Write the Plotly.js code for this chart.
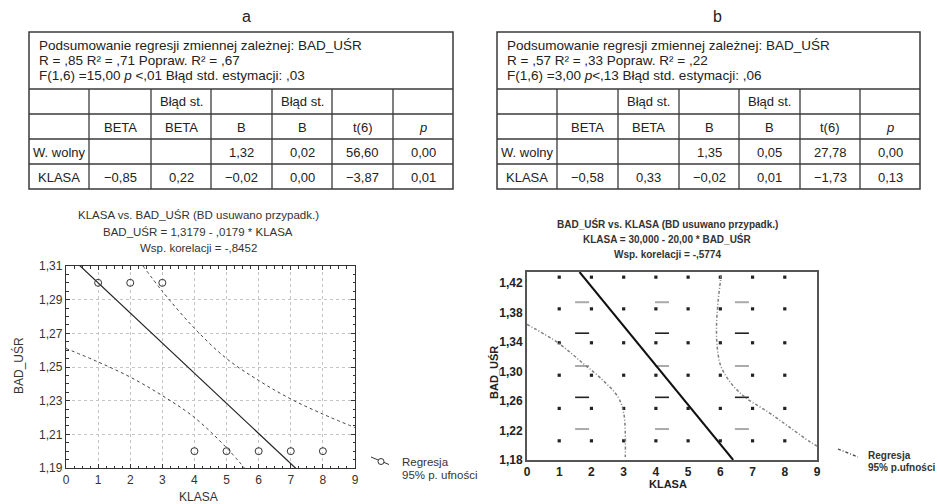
<!DOCTYPE html>
<html>
<head>
<meta charset="utf-8">
<script src="https://cdn.plot.ly/plotly-3.0.1.min.js"></script>
<style>html,body{margin:0;padding:0;background:#fff;}#chart{width:938px;height:504px;}</style>
</head>
<body>
<div id="chart"></div>
<script>
// ---------- data ----------
const panelLabels = ["a", "b"];
const headerA = ["Podsumowanie regresji zmiennej zależnej: BAD_UŚR",
                 "R = ,85 R² = ,71 Popraw. R² = ,67",
                 "F(1,6) =15,00 <i>p</i> &lt;,01 Błąd std. estymacji: ,03"];
const headerB = ["Podsumowanie regresji zmiennej zależnej: BAD_UŚR",
                 "R = ,57 R² = ,33 Popraw. R² = ,22",
                 "F(1,6) =3,00 <i>p</i>&lt;,13 Błąd std. estymacji: ,06"];
const colHead1 = ["", "", "Błąd st.", "", "Błąd st.", "", ""];
const colHead2 = ["", "BETA", "BETA", "B", "B", "t(6)", "<i>p</i>"];
const rowLabels = ["W. wolny", "KLASA"];
const valuesA = [["", "", "1,32", "0,02", "56,60", "0,00"],
                 ["−0,85", "0,22", "−0,02", "0,00", "−3,87", "0,01"]];
const valuesB = [["", "", "1,35", "0,05", "27,78", "0,00"],
                 ["−0,58", "0,33", "−0,02", "0,01", "−1,73", "0,13"]];

// chart a
const titleA = ["KLASA vs. BAD_UŚR (BD usuwano przypadk.)",
                "BAD_UŚR = 1,3179 - ,0179 * KLASA",
                "Wsp. korelacji = -,8452"];
const klasaA = [1, 2, 3, 4, 5, 6, 7, 8];
const badA   = [1.30, 1.30, 1.30, 1.20, 1.20, 1.20, 1.20, 1.20];
const regAx = [0, 9];
const regAy = [1.3179, 1.1568];
const upAx = [2.4, 3, 4, 5, 6, 7, 8, 9];
const upAy = [1.310, 1.295, 1.273, 1.255, 1.242, 1.231, 1.222, 1.214];
const loAx = [0, 1, 2, 3, 4, 5, 5.6];
const loAy = [1.261, 1.253, 1.244, 1.233, 1.220, 1.202, 1.189];

// chart b
const titleB = ["BAD_UŚR vs. KLASA (BD usuwano przypadk.)",
                "KLASA = 30,000 - 20,00 * BAD_UŚR",
                "Wsp. korelacji = -,5774"];
const dotCols = [1, 2, 3, 4, 5, 6, 7, 8];
const dotRows = [1.206, 1.250, 1.295, 1.339, 1.385, 1.428];
const dashCols = [1.71, 4.19, 6.67];
const dashRowsGray = [1.394, 1.3075, 1.222];
const dashRowsBlack = [1.352, 1.265];
const regBx = [1.63, 6.40];
const regBy = [1.435, 1.18];
const loBx = [0, 0.96, 1.74, 2.36, 2.83, 3.0, 3.05, 3.05];
const loBy = [1.364, 1.339, 1.311, 1.288, 1.265, 1.244, 1.217, 1.184];
const upBx = [6.03, 5.93, 5.88, 5.91, 6.01, 6.3, 6.77, 7.45, 8.1, 8.8, 9.0];
const upBy = [1.431, 1.395, 1.358, 1.331, 1.308, 1.286, 1.265, 1.246, 1.226, 1.204, 1.199];
const legendTexts = ["Regresja", "95% p. ufności", "95% p.ufności"];

// ---------- helpers ----------
const W = 938, H = 504;
const PX = x => x / W;
const PY = y => 1 - y / H;
const FONT = "Liberation Sans, Arial, sans-serif";
const shapes = [];
const annotations = [];

function ann(text, x, y, opts) {
  annotations.push(Object.assign({
    text: text, xref: "paper", yref: "paper", x: PX(x), y: PY(y),
    showarrow: false, xanchor: "center", yanchor: "middle",
    font: {family: FONT, size: 13, color: "#222"}
  }, opts || {}));
}
function line(x0, y0, x1, y1, color, width, dash) {
  shapes.push({type: "line", xref: "paper", yref: "paper",
    x0: PX(x0), y0: PY(y0), x1: PX(x1), y1: PY(y1),
    line: {color: color, width: width, dash: dash || "solid"}});
}

// ---------- tables ----------
const rowsY = [32, 89, 114, 139, 164, 189];
function drawTable(colsX, header, values) {
  const x0 = colsX[0], x1 = colsX[colsX.length - 1];
  const lc = "#3a3a3a";
  shapes.push({type: "rect", xref: "paper", yref: "paper",
    x0: PX(x0), y0: PY(rowsY[5]), x1: PX(x1), y1: PY(rowsY[0]),
    line: {color: lc, width: 1.5}});
  for (let r = 1; r < 5; r++) line(x0, rowsY[r], x1, rowsY[r], lc, 1.3);
  for (let c = 1; c < colsX.length - 1; c++) line(colsX[c], rowsY[1], colsX[c], rowsY[5], lc, 1.3);
  const hy = [45.5, 60.5, 75];
  header.forEach((t, i) => ann(t, x0 + 8, hy[i], {xanchor: "left",
    font: {family: FONT, size: 13.5, color: "#222"}}));
  const allRows = [colHead1, colHead2,
    [rowLabels[0]].concat(values[0]), [rowLabels[1]].concat(values[1])];
  allRows.forEach((row, r) => {
    row.forEach((t, c) => {
      if (!t) return;
      ann(t, (colsX[c] + colsX[c + 1]) / 2, (rowsY[r + 1] + rowsY[r + 2]) / 2 + 0.5);
    });
  });
}
drawTable([29, 89, 151, 211, 272, 332, 393, 453], headerA, valuesA);
drawTable([497, 557, 618, 679, 739, 800, 860, 920], headerB, valuesB);
ann(panelLabels[0], 247, 17, {font: {family: FONT, size: 16, color: "#222"}});
ann(panelLabels[1], 717, 17, {font: {family: FONT, size: 16, color: "#222"}});

// ---------- chart a texts ----------
const tA = {family: FONT, size: 11.5, color: "#333"};
ann(titleA[0], 198, 215, {font: tA});
ann(titleA[1], 198, 232, {font: tA});
ann(titleA[2], 198, 248, {font: tA});
ann("BAD_UŚR", 18, 366, {textangle: -90, font: {family: FONT, size: 12, color: "#333"}});
ann("KLASA", 198, 497, {font: {family: FONT, size: 12, color: "#333"}});
line(371, 457, 389, 464.5, "#333", 1);
shapes.push({type: "circle", xref: "paper", yref: "paper",
  x0: PX(378), x1: PX(384), y0: PY(458.5), y1: PY(464.5),
  fillcolor: "#fff", line: {color: "#333", width: 1}});
ann(legendTexts[0], 400, 462, {xanchor: "left", font: {family: FONT, size: 11.5, color: "#333"}});
ann(legendTexts[1], 400, 475, {xanchor: "left", font: {family: FONT, size: 11.5, color: "#333"}});

// ---------- chart b texts ----------
const tB = {family: FONT, size: 10, color: "#333", weight: "bold"};
ann(titleB[0], 667, 224, {font: tB});
ann(titleB[1], 667, 238.5, {font: tB});
ann(titleB[2], 667, 254, {font: tB});
ann("BAD_UŚR", 494, 372, {textangle: -90, font: {family: FONT, size: 11, color: "#222", weight: "bold"}});
ann("KLASA", 668, 484, {font: {family: FONT, size: 11, color: "#222", weight: "bold"}});
line(838, 449, 858, 457, "#444", 1.3, "3px,2px,1px,2px");
ann(legendTexts[0], 866, 455, {xanchor: "left", font: tB});
ann(legendTexts[2], 866, 467, {xanchor: "left", font: tB});

// ---------- traces ----------
const traces = [];
traces.push({x: regAx, y: regAy, xaxis: "x", yaxis: "y", mode: "lines",
  line: {color: "#222", width: 1.2}, hoverinfo: "skip"});
traces.push({x: upAx, y: upAy, xaxis: "x", yaxis: "y", mode: "lines",
  line: {color: "#444", width: 1, dash: "dot", shape: "spline"}, hoverinfo: "skip"});
traces.push({x: loAx, y: loAy, xaxis: "x", yaxis: "y", mode: "lines",
  line: {color: "#444", width: 1, dash: "dot", shape: "spline"}, hoverinfo: "skip"});
traces.push({x: klasaA, y: badA, xaxis: "x", yaxis: "y", mode: "markers",
  marker: {symbol: "circle-open", size: 7, color: "#333", line: {width: 1}}, cliponaxis: false});

// chart b pattern
const px = [], py = [];
dotRows.forEach(r => dotCols.forEach(c => { px.push(c); py.push(r); }));
traces.push({x: px, y: py, xaxis: "x2", yaxis: "y2", mode: "markers",
  marker: {symbol: "square", size: 3.2, color: "#222"}, hoverinfo: "skip"});
const gx = [], gy = [], kx = [], ky = [];
dashRowsGray.forEach(r => dashCols.forEach(c => { gx.push(c); gy.push(r); }));
dashRowsBlack.forEach(r => dashCols.forEach(c => { kx.push(c); ky.push(r); }));
traces.push({x: gx, y: gy, xaxis: "x2", yaxis: "y2", mode: "markers",
  marker: {symbol: "line-ew", size: 10, line: {color: "#aaa", width: 2}}, hoverinfo: "skip"});
traces.push({x: kx, y: ky, xaxis: "x2", yaxis: "y2", mode: "markers",
  marker: {symbol: "line-ew", size: 10, line: {color: "#222", width: 1.6}}, hoverinfo: "skip"});
traces.push({x: loBx, y: loBy, xaxis: "x2", yaxis: "y2", mode: "lines",
  line: {color: "#808080", width: 1.5, dash: "3px,2px,1px,2px", shape: "spline"}, hoverinfo: "skip"});
traces.push({x: upBx, y: upBy, xaxis: "x2", yaxis: "y2", mode: "lines",
  line: {color: "#808080", width: 1.5, dash: "3px,2px,1px,2px", shape: "spline"}, hoverinfo: "skip"});
traces.push({x: regBx, y: regBy, xaxis: "x2", yaxis: "y2", mode: "lines",
  line: {color: "#111", width: 2}, hoverinfo: "skip"});

const tickA = {family: FONT, size: 12, color: "#333"};
const tickB = {family: FONT, size: 12, color: "#222", weight: "bold"};
const layout = {
  width: W, height: H, margin: {l: 0, r: 0, t: 0, b: 0},
  paper_bgcolor: "#fff", plot_bgcolor: "#fff", showlegend: false,
  separators: ", ",
  xaxis: {domain: [PX(66), PX(355)], anchor: "y", range: [0, 9], dtick: 1, tick0: 0,
    showgrid: true, gridcolor: "#c4c4c4", griddash: "dot", gridwidth: 1,
    showline: true, mirror: "ticks", linecolor: "#333", linewidth: 1.2,
    ticks: "inside", ticklen: 4, tickcolor: "#333", zeroline: false, tickfont: tickA,
    minor: {dtick: 0.25, ticks: "inside", ticklen: 2.5, tickcolor: "#333", showgrid: false}},
  yaxis: {domain: [PY(468), PY(266)], anchor: "x", range: [1.19, 1.31], dtick: 0.02, tick0: 1.19,
    tickformat: ".2f",
    showgrid: true, gridcolor: "#c4c4c4", griddash: "dot", gridwidth: 1,
    showline: true, mirror: "ticks", linecolor: "#333", linewidth: 1.2,
    ticks: "inside", ticklen: 4, tickcolor: "#333", zeroline: false, tickfont: tickA,
    minor: {dtick: 0.005, ticks: "inside", ticklen: 2.5, tickcolor: "#333", showgrid: false}},
  xaxis2: {domain: [PX(527), PX(817)], anchor: "y2", range: [0, 9], dtick: 1, tick0: 0,
    showgrid: false, showline: true, mirror: true, linecolor: "#555", linewidth: 2,
    ticks: "", zeroline: false, tickfont: tickB},
  yaxis2: {domain: [PY(460), PY(272)], anchor: "x2", range: [1.18, 1.435], dtick: 0.04, tick0: 1.18,
    tickformat: ".2f",
    showgrid: false, showline: true, mirror: true, linecolor: "#555", linewidth: 2,
    ticks: "", zeroline: false, tickfont: tickB},
  shapes: shapes,
  annotations: annotations
};
Plotly.newPlot("chart", traces, layout, {displayModeBar: false, staticPlot: true});
</script>
</body>
</html>
